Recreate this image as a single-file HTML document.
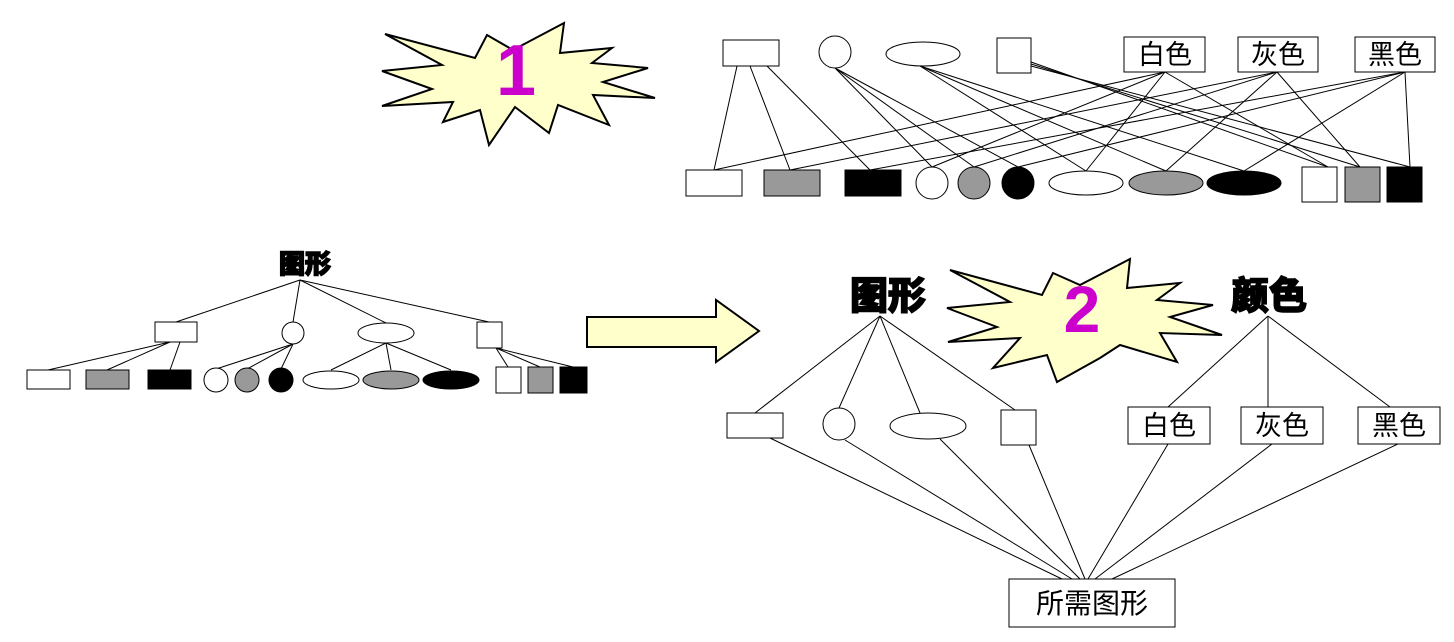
<!DOCTYPE html>
<html><head><meta charset="utf-8"><style>
html,body{margin:0;padding:0;background:#fff;}
svg{display:block;}
.t{font-family:"Liberation Sans","Noto Sans CJK SC",sans-serif;}
.h{font-family:"Noto Sans CJK SC","WenQuanYi Zen Hei",sans-serif;font-weight:900;stroke:#000;stroke-width:1.5;}
</style></head><body>
<svg width="1454" height="642" viewBox="0 0 1454 642" xmlns="http://www.w3.org/2000/svg">
<g fill="none" stroke="#000" stroke-width="1">
<line x1="737" y1="66" x2="714" y2="170"/><line x1="750" y1="66" x2="790" y2="170"/><line x1="767" y1="66" x2="870" y2="170"/>
<line x1="835" y1="68" x2="932" y2="167"/><line x1="835" y1="68" x2="974" y2="167"/><line x1="835" y1="68" x2="1018" y2="167"/>
<line x1="920" y1="66" x2="1086" y2="171"/><line x1="920" y1="66" x2="1166" y2="171"/><line x1="920" y1="66" x2="1244" y2="171"/>
<line x1="1031" y1="62" x2="1328" y2="167"/><line x1="1031" y1="64" x2="1360" y2="167"/><line x1="1031" y1="66" x2="1410" y2="167"/>
<line x1="1165" y1="72" x2="714" y2="170"/><line x1="1165" y1="72" x2="932" y2="167"/><line x1="1165" y1="72" x2="1086" y2="171"/><line x1="1165" y1="72" x2="1328" y2="167"/>
<line x1="1277" y1="72" x2="790" y2="170"/><line x1="1277" y1="72" x2="974" y2="167"/><line x1="1277" y1="72" x2="1166" y2="171"/><line x1="1277" y1="72" x2="1360" y2="167"/>
<line x1="1405" y1="72" x2="870" y2="170"/><line x1="1405" y1="72" x2="1018" y2="167"/><line x1="1405" y1="72" x2="1244" y2="171"/><line x1="1405" y1="72" x2="1410" y2="167"/>
<line x1="300" y1="280" x2="176" y2="322"/><line x1="300" y1="280" x2="293" y2="322"/><line x1="300" y1="280" x2="386" y2="323"/><line x1="300" y1="280" x2="489" y2="322"/>
<line x1="170" y1="342" x2="48" y2="370"/><line x1="170" y1="342" x2="107" y2="370"/><line x1="180" y1="342" x2="170" y2="370"/>
<line x1="293" y1="344" x2="216" y2="369"/><line x1="293" y1="344" x2="247" y2="369"/><line x1="293" y1="344" x2="281" y2="369"/>
<line x1="386" y1="343" x2="331" y2="370"/><line x1="386" y1="343" x2="391" y2="370"/><line x1="386" y1="343" x2="451" y2="370"/>
<line x1="496" y1="348" x2="508" y2="367"/><line x1="496" y1="348" x2="540" y2="367"/><line x1="496" y1="348" x2="573" y2="367"/>
<line x1="880" y1="316" x2="755" y2="413"/><line x1="880" y1="316" x2="839" y2="408"/><line x1="880" y1="316" x2="920" y2="413"/><line x1="880" y1="316" x2="1015" y2="410"/>
<line x1="1268" y1="316" x2="1168" y2="407"/><line x1="1268" y1="316" x2="1268" y2="407"/><line x1="1268" y1="316" x2="1390" y2="407"/>
<line x1="770" y1="438" x2="1062" y2="579"/><line x1="845" y1="440" x2="1072" y2="579"/><line x1="940" y1="439" x2="1080" y2="579"/><line x1="1029" y1="445" x2="1085" y2="579"/>
<line x1="1168" y1="444" x2="1088" y2="579"/><line x1="1272" y1="444" x2="1095" y2="579"/><line x1="1398" y1="444" x2="1112" y2="579"/>
</g>
<polygon fill="#FFFFCC" stroke="#000" stroke-width="2" points="385,34 475,58 487,35 513,50 564,23 560,53 612,48 592,63 648,68 603,82 655,98 593,95 609,125 558,105 549,133 515,107 489,145 480,110 443,122 453,102 382,106 432,89 382,71 442,65"/>
<text x="516" y="95" text-anchor="middle" fill="#CC00CC" font-family="Liberation Sans,sans-serif" font-weight="bold" font-size="72">1</text>
<polygon fill="#FFFFCC" stroke="#000" stroke-width="2" points="950,270 1042,295 1053,273 1080,285 1130,259 1127,288 1180,283 1157,300 1213,305 1170,317 1222,335 1160,333 1177,362 1120,345 1100,358 1057,382 1047,355 993,368 1020,338 948,342 997,327 947,308 1010,302"/>
<text x="1082" y="332" text-anchor="middle" fill="#CC00CC" font-family="Liberation Sans,sans-serif" font-weight="bold" font-size="66">2</text>
<polygon fill="#FFFFCC" stroke="#000" stroke-width="2" points="587,317 716,317 716,300 759,331 716,362 716,347 587,347"/>
<g stroke="#000" stroke-width="1">
<rect x="723" y="40" width="56" height="26" fill="#fff"/>
<ellipse cx="835" cy="52" rx="16" ry="16" fill="#fff"/>
<ellipse cx="923" cy="54" rx="37" ry="12" fill="#fff"/>
<rect x="997" y="38" width="34" height="35" fill="#fff"/>
<rect x="1124" y="37" width="81" height="35" fill="#fff"/>
<rect x="1238" y="37" width="80" height="35" fill="#fff"/>
<rect x="1355" y="37" width="80" height="35" fill="#fff"/>
<rect x="686" y="170" width="56" height="26" fill="#fff"/>
<rect x="764" y="170" width="56" height="26" fill="#999"/>
<rect x="845" y="170" width="56" height="26" fill="#000"/>
<ellipse cx="932" cy="183" rx="16" ry="16" fill="#fff"/>
<ellipse cx="974" cy="183" rx="16" ry="16" fill="#999"/>
<ellipse cx="1018" cy="183" rx="16" ry="16" fill="#000"/>
<ellipse cx="1086" cy="183" rx="37" ry="12" fill="#fff"/>
<ellipse cx="1166" cy="183" rx="37" ry="12" fill="#999"/>
<ellipse cx="1244" cy="183" rx="37" ry="12" fill="#000"/>
<rect x="1302" y="167" width="35" height="35" fill="#fff"/>
<rect x="1345" y="167" width="35" height="35" fill="#999"/>
<rect x="1387" y="167" width="35" height="35" fill="#000"/>
<rect x="155" y="322" width="42" height="20" fill="#fff"/>
<ellipse cx="293" cy="333" rx="11" ry="11" fill="#fff"/>
<ellipse cx="386" cy="333" rx="28" ry="10" fill="#fff"/>
<rect x="477" y="322" width="25" height="26" fill="#fff"/>
<rect x="27" y="370" width="43" height="19" fill="#fff"/>
<rect x="86" y="370" width="43" height="19" fill="#999"/>
<rect x="148" y="370" width="43" height="19" fill="#000"/>
<ellipse cx="216" cy="380" rx="12" ry="12" fill="#fff"/>
<ellipse cx="247" cy="380" rx="12" ry="12" fill="#999"/>
<ellipse cx="281" cy="380" rx="12" ry="12" fill="#000"/>
<ellipse cx="331" cy="380" rx="28" ry="9" fill="#fff"/>
<ellipse cx="391" cy="380" rx="28" ry="9" fill="#999"/>
<ellipse cx="451" cy="380" rx="28" ry="9" fill="#000"/>
<rect x="496" y="367" width="25" height="26" fill="#fff"/>
<rect x="528" y="367" width="25" height="26" fill="#999"/>
<rect x="560" y="367" width="27" height="26" fill="#000"/>
<rect x="727" y="413" width="56" height="25" fill="#fff"/>
<ellipse cx="839" cy="424" rx="16" ry="16" fill="#fff"/>
<ellipse cx="928" cy="426" rx="38" ry="13" fill="#fff"/>
<rect x="1001" y="410" width="35" height="35" fill="#fff"/>
<rect x="1128" y="407" width="82" height="37" fill="#fff"/>
<rect x="1241" y="407" width="82" height="37" fill="#fff"/>
<rect x="1358" y="407" width="82" height="37" fill="#fff"/>
<rect x="1009" y="579" width="166" height="48" fill="#fff"/>
</g>
<g class="t" font-size="27" text-anchor="middle" fill="#000">
<text x="1165" y="64">白色</text>
<text x="1278" y="64">灰色</text>
<text x="1395" y="64">黑色</text>
<text x="1169" y="435">白色</text>
<text x="1282" y="435">灰色</text>
<text x="1399" y="435">黑色</text>
<text x="1092" y="613" font-size="28">所需图形</text>
</g>
<g class="h" text-anchor="middle" fill="#000">
<text x="305" y="273" font-size="26">图形</text>
<text x="888" y="309" font-size="38">图形</text>
<text x="1269" y="309" font-size="38">颜色</text>
</g>
</svg>
</body></html>
